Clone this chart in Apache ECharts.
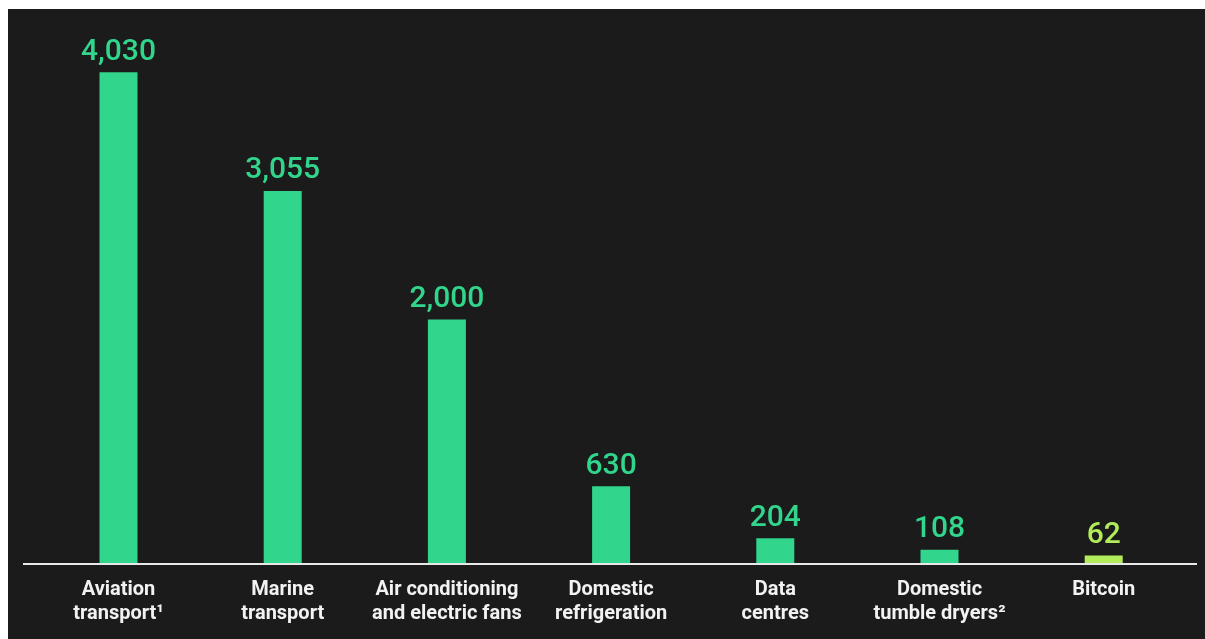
<!DOCTYPE html>
<html>
<head>
<meta charset="utf-8">
<script src="https://cdn.jsdelivr.net/npm/echarts@6/dist/echarts.min.js"></script>
<style>
  html, body { margin: 0; padding: 0; background: #ffffff; }
  #chart { position: absolute; left: 8px; top: 9px; width: 1197px; height: 630px; background: #1b1b1b; }
</style>
</head>
<body>
<div id="chart"></div>
<script>
const categories = [
  "Aviation\ntransport\u00b9",
  "Marine\ntransport",
  "Air conditioning\nand electric fans",
  "Domestic\nrefrigeration",
  "Data\ncentres",
  "Domestic\ntumble dryers\u00b2",
  "Bitcoin"
];
const values = [4030, 3055, 2000, 630, 204, 108, 62];
const highlightIndex = 6;

const green = "#31d58b";
const lime = "#b2ec5b";

const chart = echarts.init(document.getElementById('chart'));
chart.setOption({
  backgroundColor: '#1b1b1b',
  animation: false,
  grid: { left: 28.4, right: 19.2, top: 6, bottom: 76, containLabel: false },
  xAxis: {
    type: 'category',
    data: categories,
    axisLine: { show: false },
    axisTick: { show: false },
    axisLabel: {
      color: '#f2f2f2',
      fontFamily: 'Roboto',
      fontWeight: 'bold',
      fontSize: 20,
      lineHeight: 24,
      margin: 15,
      interval: 0
    }
  },
  yAxis: {
    type: 'value',
    min: 0,
    max: 4500,
    show: false,
    splitLine: { show: false }
  },
  graphic: [{
    type: 'line',
    shape: { x1: 15, y1: 555, x2: 1189, y2: 555 },
    style: { stroke: '#e8e8e8', lineWidth: 2 },
    z: 10
  }],
  series: [{
    type: 'bar',
    barWidth: 38,
    data: values.map((v, i) => ({
      value: v,
      itemStyle: { color: i === highlightIndex ? lime : green },
      label: { color: i === highlightIndex ? lime : green }
    })),
    label: {
      show: true,
      position: 'top',
      distance: 5,
      fontFamily: 'Roboto',
      fontWeight: 500,
      fontSize: 30,
      formatter: p => p.value.toLocaleString('en-US')
    }
  }]
});
</script>
</body>
</html>
